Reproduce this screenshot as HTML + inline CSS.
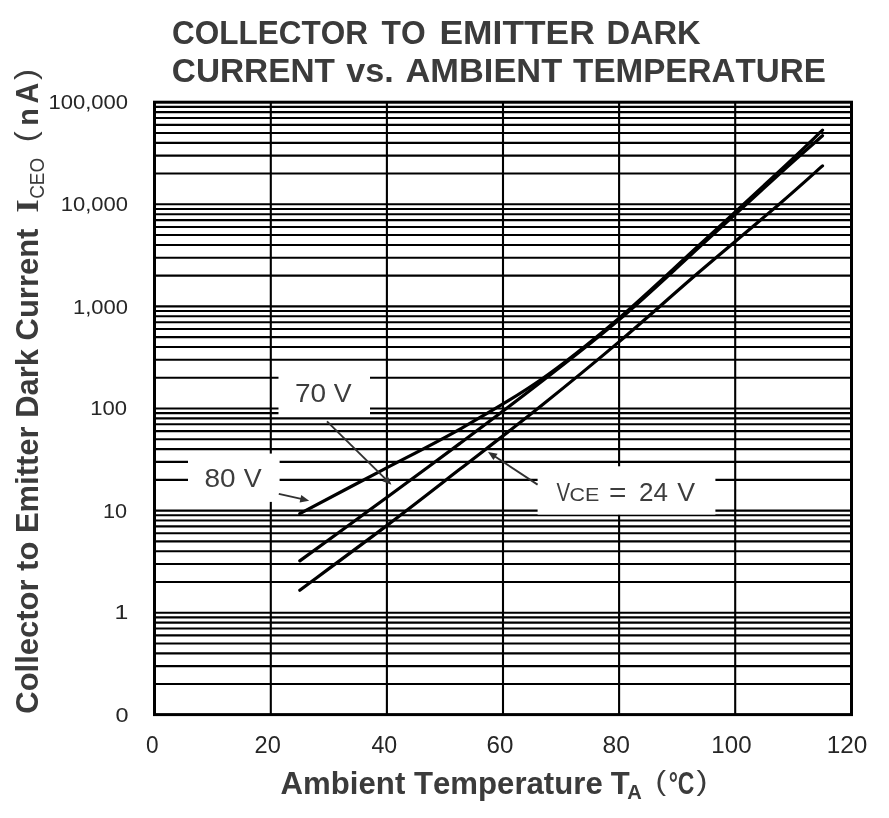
<!DOCTYPE html>
<html><head><meta charset="utf-8"><style>
html,body{margin:0;padding:0;background:#fff;}
svg{display:block;will-change:transform;}
text{font-family:"Liberation Sans",sans-serif;font-kerning:none;}
</style></head><body>
<svg width="889" height="818" viewBox="0 0 889 818">
<rect width="889" height="818" fill="#fff"/>
<text x="172.11" y="43.60" font-size="33.0" textLength="195.84" lengthAdjust="spacingAndGlyphs" font-weight="bold" fill="#3b3b3b">COLLECTOR</text>
<text x="381.54" y="43.60" font-size="33.0" textLength="44.09" lengthAdjust="spacingAndGlyphs" font-weight="bold" fill="#3b3b3b">TO</text>
<text x="439.53" y="43.60" font-size="33.0" textLength="155.19" lengthAdjust="spacingAndGlyphs" font-weight="bold" fill="#3b3b3b">EMITTER</text>
<text x="606.42" y="43.60" font-size="33.0" textLength="94.29" lengthAdjust="spacingAndGlyphs" font-weight="bold" fill="#3b3b3b">DARK</text>
<text x="171.83" y="82.20" font-size="33.0" textLength="163.13" lengthAdjust="spacingAndGlyphs" font-weight="bold" fill="#3b3b3b">CURRENT</text>
<text x="346.27" y="82.20" font-size="33.0" textLength="47.49" lengthAdjust="spacingAndGlyphs" font-weight="bold" fill="#3b3b3b">vs.</text>
<text x="405.54" y="82.20" font-size="33.0" textLength="156.63" lengthAdjust="spacingAndGlyphs" font-weight="bold" fill="#3b3b3b">AMBIENT</text>
<text x="573.13" y="82.20" font-size="33.0" textLength="252.77" lengthAdjust="spacingAndGlyphs" font-weight="bold" fill="#3b3b3b">TEMPERATURE</text>
<g stroke="#000" stroke-width="2.1" fill="none">
<line x1="154.7" y1="684.06" x2="851.5" y2="684.06"/>
<line x1="154.7" y1="666.09" x2="851.5" y2="666.09"/>
<line x1="154.7" y1="653.33" x2="851.5" y2="653.33"/>
<line x1="154.7" y1="643.44" x2="851.5" y2="643.44"/>
<line x1="154.7" y1="635.35" x2="851.5" y2="635.35"/>
<line x1="154.7" y1="628.52" x2="851.5" y2="628.52"/>
<line x1="154.7" y1="622.59" x2="851.5" y2="622.59"/>
<line x1="154.7" y1="617.37" x2="851.5" y2="617.37"/>
<line x1="154.7" y1="612.70" x2="851.5" y2="612.70"/>
<line x1="154.7" y1="581.96" x2="851.5" y2="581.96"/>
<line x1="154.7" y1="563.99" x2="851.5" y2="563.99"/>
<line x1="154.7" y1="551.23" x2="851.5" y2="551.23"/>
<line x1="154.7" y1="541.34" x2="851.5" y2="541.34"/>
<line x1="154.7" y1="533.25" x2="851.5" y2="533.25"/>
<line x1="154.7" y1="526.42" x2="851.5" y2="526.42"/>
<line x1="154.7" y1="520.49" x2="851.5" y2="520.49"/>
<line x1="154.7" y1="515.27" x2="851.5" y2="515.27"/>
<line x1="154.7" y1="510.60" x2="851.5" y2="510.60"/>
<line x1="154.7" y1="479.86" x2="851.5" y2="479.86"/>
<line x1="154.7" y1="461.89" x2="851.5" y2="461.89"/>
<line x1="154.7" y1="449.13" x2="851.5" y2="449.13"/>
<line x1="154.7" y1="439.24" x2="851.5" y2="439.24"/>
<line x1="154.7" y1="431.15" x2="851.5" y2="431.15"/>
<line x1="154.7" y1="424.32" x2="851.5" y2="424.32"/>
<line x1="154.7" y1="418.39" x2="851.5" y2="418.39"/>
<line x1="154.7" y1="413.17" x2="851.5" y2="413.17"/>
<line x1="154.7" y1="408.50" x2="851.5" y2="408.50"/>
<line x1="154.7" y1="377.76" x2="851.5" y2="377.76"/>
<line x1="154.7" y1="359.79" x2="851.5" y2="359.79"/>
<line x1="154.7" y1="347.03" x2="851.5" y2="347.03"/>
<line x1="154.7" y1="337.14" x2="851.5" y2="337.14"/>
<line x1="154.7" y1="329.05" x2="851.5" y2="329.05"/>
<line x1="154.7" y1="322.22" x2="851.5" y2="322.22"/>
<line x1="154.7" y1="316.29" x2="851.5" y2="316.29"/>
<line x1="154.7" y1="311.07" x2="851.5" y2="311.07"/>
<line x1="154.7" y1="306.40" x2="851.5" y2="306.40"/>
<line x1="154.7" y1="275.66" x2="851.5" y2="275.66"/>
<line x1="154.7" y1="257.69" x2="851.5" y2="257.69"/>
<line x1="154.7" y1="244.93" x2="851.5" y2="244.93"/>
<line x1="154.7" y1="235.04" x2="851.5" y2="235.04"/>
<line x1="154.7" y1="226.95" x2="851.5" y2="226.95"/>
<line x1="154.7" y1="220.12" x2="851.5" y2="220.12"/>
<line x1="154.7" y1="214.19" x2="851.5" y2="214.19"/>
<line x1="154.7" y1="208.97" x2="851.5" y2="208.97"/>
<line x1="154.7" y1="204.30" x2="851.5" y2="204.30"/>
<line x1="154.7" y1="173.56" x2="851.5" y2="173.56"/>
<line x1="154.7" y1="155.59" x2="851.5" y2="155.59"/>
<line x1="154.7" y1="142.83" x2="851.5" y2="142.83"/>
<line x1="154.7" y1="132.94" x2="851.5" y2="132.94"/>
<line x1="154.7" y1="124.85" x2="851.5" y2="124.85"/>
<line x1="154.7" y1="118.02" x2="851.5" y2="118.02"/>
<line x1="154.7" y1="112.09" x2="851.5" y2="112.09"/>
<line x1="154.7" y1="106.87" x2="851.5" y2="106.87"/>
<line x1="270.80" y1="101.8" x2="270.80" y2="714.5"/>
<line x1="386.90" y1="101.8" x2="386.90" y2="714.5"/>
<line x1="503.00" y1="101.8" x2="503.00" y2="714.5"/>
<line x1="619.10" y1="101.8" x2="619.10" y2="714.5"/>
<line x1="735.20" y1="101.8" x2="735.20" y2="714.5"/>
</g>
<rect x="154.5" y="102.2" width="697" height="612.4" fill="none" stroke="#000" stroke-width="3"/>
<g stroke="#000" stroke-width="3.2" fill="none" stroke-linecap="round">
<path d="M299.80,590.19 C314.40,579.35 360.70,545.30 387.40,525.12 C414.10,504.94 434.57,488.85 460.00,469.11 C485.43,449.38 513.55,427.88 540.00,406.71 C566.45,385.54 592.37,364.38 618.70,342.10 C645.03,319.82 671.45,295.83 698.00,273.02 C724.55,250.20 757.25,223.06 778.00,205.21 C798.75,187.36 815.08,172.45 822.50,165.90"/><path d="M299.80,560.86 C314.40,550.21 360.70,516.53 387.40,496.95 C414.10,477.37 434.57,462.42 460.00,443.40 C485.43,424.38 513.55,403.35 540.00,382.80 C566.45,362.25 592.37,342.50 618.70,320.10 C645.03,297.70 671.45,272.55 698.00,248.40 C724.55,224.25 757.25,193.97 778.00,175.20 C798.75,156.43 815.08,142.37 822.50,135.80"/><path d="M299.80,513.66 C313.17,506.60 353.30,485.42 380.00,471.32 C406.70,457.22 433.33,444.21 460.00,429.04 C486.67,413.87 513.55,398.74 540.00,380.30 C566.45,361.86 592.37,340.75 618.70,318.40 C645.03,296.05 671.45,270.53 698.00,246.20 C724.55,221.87 757.25,191.73 778.00,172.40 C798.75,153.07 815.08,137.23 822.50,130.20"/>
</g>
<rect x="188" y="453.6" width="91.60000000000002" height="48.299999999999955" fill="#fff"/><rect x="278.5" y="366" width="91.5" height="50" fill="#fff"/><rect x="537.6" y="466.3" width="177.79999999999995" height="48.30000000000001" fill="#fff"/>
<g stroke="#303030" fill="#303030" stroke-width="1.9">
<line x1="278.80" y1="493.90" x2="302.37" y2="499.17"/><path d="M309.20,500.70 L299.60,502.39 L301.24,495.08 Z" stroke="none"/><line x1="327.00" y1="421.40" x2="386.41" y2="479.89"/><path d="M391.40,484.80 L382.36,481.16 L387.62,475.81 Z" stroke="none"/><line x1="537.60" y1="484.60" x2="493.84" y2="455.75"/><path d="M488.00,451.90 L497.58,453.72 L493.45,459.98 Z" stroke="none"/>
</g>
<text x="204.48" y="487.00" font-size="26.5" textLength="31.11" lengthAdjust="spacingAndGlyphs" fill="#3d3d3d">80</text>
<text x="243.88" y="487.00" font-size="26.5" textLength="17.94" lengthAdjust="spacingAndGlyphs" fill="#3d3d3d">V</text>
<text x="294.97" y="402.40" font-size="26.5" textLength="31.13" lengthAdjust="spacingAndGlyphs" fill="#3d3d3d">70</text>
<text x="333.88" y="402.40" font-size="26.5" textLength="17.84" lengthAdjust="spacingAndGlyphs" fill="#3d3d3d">V</text>
<text x="556.51" y="501.40" font-size="26.5" textLength="13.58" lengthAdjust="spacingAndGlyphs" fill="#3d3d3d">V</text>
<text x="569.61" y="501.40" font-size="19.0" textLength="29.81" lengthAdjust="spacingAndGlyphs" fill="#3d3d3d">CE</text>
<text x="609.04" y="501.60" font-size="28.5" textLength="17.43" lengthAdjust="spacingAndGlyphs" fill="#3d3d3d">=</text>
<text x="638.99" y="501.40" font-size="26.5" textLength="28.97" lengthAdjust="spacingAndGlyphs" fill="#3d3d3d">24</text>
<text x="677.28" y="501.40" font-size="26.5" textLength="17.84" lengthAdjust="spacingAndGlyphs" fill="#3d3d3d">V</text>
<text x="48.42" y="108.95" font-size="20.5" textLength="79.64" lengthAdjust="spacingAndGlyphs" fill="#262626">100,000</text>
<text x="60.73" y="211.05" font-size="20.5" textLength="67.23" lengthAdjust="spacingAndGlyphs" fill="#262626">10,000</text>
<text x="72.92" y="313.55" font-size="20.5" textLength="55.03" lengthAdjust="spacingAndGlyphs" fill="#262626">1,000</text>
<text x="90.22" y="414.95" font-size="20.5" textLength="36.84" lengthAdjust="spacingAndGlyphs" fill="#262626">100</text>
<text x="102.95" y="517.95" font-size="20.5" textLength="24.10" lengthAdjust="spacingAndGlyphs" fill="#262626">10</text>
<text x="114.51" y="619.25" font-size="20.5" textLength="13.80" lengthAdjust="spacingAndGlyphs" fill="#262626">1</text>
<text x="115.48" y="722.25" font-size="20.5" textLength="13.03" lengthAdjust="spacingAndGlyphs" fill="#262626">0</text>
<text x="145.92" y="753.30" font-size="24.7" textLength="12.57" lengthAdjust="spacingAndGlyphs" fill="#262626">0</text>
<text x="254.62" y="753.30" font-size="24.7" textLength="26.21" lengthAdjust="spacingAndGlyphs" fill="#262626">20</text>
<text x="371.47" y="753.30" font-size="24.7" textLength="25.73" lengthAdjust="spacingAndGlyphs" fill="#262626">40</text>
<text x="486.57" y="753.30" font-size="24.7" textLength="26.87" lengthAdjust="spacingAndGlyphs" fill="#262626">60</text>
<text x="602.53" y="753.30" font-size="24.7" textLength="27.33" lengthAdjust="spacingAndGlyphs" fill="#262626">80</text>
<text x="711.37" y="753.30" font-size="24.7" textLength="40.17" lengthAdjust="spacingAndGlyphs" fill="#262626">100</text>
<text x="826.75" y="753.30" font-size="24.7" textLength="40.60" lengthAdjust="spacingAndGlyphs" fill="#262626">120</text>
<text x="280.62" y="793.70" font-size="30.5" textLength="322.14" lengthAdjust="spacingAndGlyphs" font-weight="bold" fill="#3b3b3b">Ambient Temperature</text>
<text x="610.85" y="793.70" font-size="30.5" textLength="18.98" lengthAdjust="spacingAndGlyphs" font-weight="bold" fill="#3b3b3b">T</text>
<text x="627.20" y="799.20" font-size="19.8" textLength="14.53" lengthAdjust="spacingAndGlyphs" font-weight="bold" fill="#3b3b3b">A</text>
<text x="655.64" y="790.40" font-size="26.8" textLength="10.55" lengthAdjust="spacingAndGlyphs" fill="#3b3b3b">(</text>
<text x="668.69" y="793.70" font-size="30.5" textLength="25.74" lengthAdjust="spacingAndGlyphs" font-weight="bold" fill="#3b3b3b">°C</text>
<text x="696.61" y="790.40" font-size="26.8" textLength="10.93" lengthAdjust="spacingAndGlyphs" fill="#3b3b3b">)</text>
<g transform="translate(37.7,712.4) rotate(-90)"><text x="-1.27" y="0.00" font-size="30.5" textLength="485.05" lengthAdjust="spacingAndGlyphs" font-weight="bold" fill="#3b3b3b">Collector to Emitter Dark Current</text>
<text x="499.65" y="0.00" font-size="32.0" textLength="13.30" lengthAdjust="spacingAndGlyphs" font-weight="bold" style="font-family:'Liberation Serif',serif" fill="#3b3b3b">I</text>
<text x="513.54" y="5.80" font-size="21.0" textLength="40.96" lengthAdjust="spacingAndGlyphs" fill="#3b3b3b">CEO</text>
<text x="570.04" y="-2.00" font-size="29.0" textLength="11.05" lengthAdjust="spacingAndGlyphs" fill="#3b3b3b">(</text>
<text x="586.72" y="0.00" font-size="29.7" textLength="17.46" lengthAdjust="spacingAndGlyphs" font-weight="bold" fill="#3b3b3b">n</text>
<text x="608.79" y="0.00" font-size="30.5" textLength="20.67" lengthAdjust="spacingAndGlyphs" font-weight="bold" fill="#3b3b3b">A</text>
<text x="632.41" y="-2.00" font-size="29.0" textLength="11.05" lengthAdjust="spacingAndGlyphs" fill="#3b3b3b">)</text></g>
</svg>
</body></html>
